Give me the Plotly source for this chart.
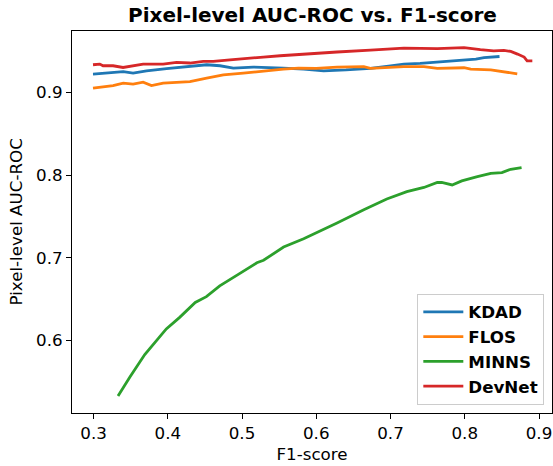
import plotly.graph_objects as go

# ---- data ----
kdad_x = [0.2993, 0.3263, 0.340, 0.3533, 0.3714, 0.3984, 0.4254, 0.4524, 0.4703, 0.4883,
          0.5152, 0.5378, 0.5557, 0.583, 0.610, 0.640, 0.673, 0.700, 0.718, 0.740,
          0.763, 0.780, 0.799, 0.815, 0.826, 0.8468]
kdad_y = [0.922, 0.924, 0.925, 0.9232, 0.926, 0.9285, 0.9312, 0.9333, 0.9321, 0.9293,
          0.9305, 0.930, 0.9293, 0.928, 0.926, 0.927, 0.929, 0.932, 0.934, 0.935,
          0.9366, 0.9375, 0.939, 0.940, 0.942, 0.9433]

flos_x = [0.2993, 0.3084, 0.3263, 0.340, 0.3533, 0.3668, 0.3781, 0.3938, 0.4119, 0.4298,
          0.4524, 0.4748, 0.5018, 0.5287, 0.5557, 0.576, 0.600, 0.628, 0.664, 0.673,
          0.700, 0.718, 0.745, 0.763, 0.799, 0.808, 0.835, 0.853, 0.8707]
flos_y = [0.905, 0.9058, 0.9082, 0.911, 0.910, 0.9123, 0.9082, 0.911, 0.9119, 0.913,
          0.917, 0.9212, 0.9232, 0.926, 0.928, 0.9293, 0.929, 0.9305, 0.931, 0.929,
          0.930, 0.931, 0.931, 0.929, 0.9297, 0.928, 0.927, 0.9248, 0.9224]

minns_x = [0.333, 0.349, 0.369, 0.398, 0.416, 0.437, 0.452, 0.470, 0.495, 0.520,
           0.529, 0.556, 0.583, 0.610, 0.628, 0.664, 0.695, 0.722, 0.745, 0.763,
           0.769, 0.783, 0.796, 0.817, 0.835, 0.850, 0.862, 0.8765]
minns_y = [0.533, 0.556, 0.583, 0.614, 0.628, 0.646, 0.653, 0.666, 0.680, 0.694,
           0.697, 0.713, 0.723, 0.734, 0.742, 0.758, 0.771, 0.780, 0.785, 0.791,
           0.791, 0.788, 0.793, 0.798, 0.802, 0.803, 0.807, 0.809]

devnet_x = [0.2993, 0.3084, 0.3128, 0.3263, 0.3398, 0.3533, 0.3668, 0.3803, 0.3938, 0.4119,
            0.4298, 0.4478, 0.4613, 0.4838, 0.5063, 0.5287, 0.5513, 0.576, 0.583, 0.628,
            0.673, 0.718, 0.763, 0.799, 0.821, 0.839, 0.8527, 0.862, 0.871, 0.880,
            0.884, 0.891]
devnet_y = [0.9333, 0.9341, 0.9321, 0.9321, 0.9300, 0.9321, 0.9341, 0.9341, 0.9341, 0.9361,
            0.9354, 0.9373, 0.9373, 0.9393, 0.9414, 0.9426, 0.9442, 0.9458, 0.9466, 0.9487,
            0.951, 0.9535, 0.9527, 0.954, 0.9515, 0.950, 0.9506, 0.9494, 0.9462, 0.9426,
            0.938, 0.938]

series_names = ["KDAD", "FLOS", "MINNS", "DevNet"]
series_x = [kdad_x, flos_x, minns_x, devnet_x]
series_y = [kdad_y, flos_y, minns_y, devnet_y]
colors = ["#1f77b4", "#ff7f0e", "#2ca02c", "#d62728"]

x_ticks = [0.3, 0.4, 0.5, 0.6, 0.7, 0.8, 0.9]
y_ticks = [0.6, 0.7, 0.8, 0.9]

FONT = "DejaVu Sans"
FS = 16.7

fig = go.Figure()
for name, xs, ys, c in zip(series_names, series_x, series_y, colors):
    fig.add_trace(go.Scatter(x=xs, y=ys, mode="lines", name=name, legendgroup=name,
                             line=dict(color=c, width=2.8)))

axis_common = dict(showgrid=False, zeroline=False, showline=True, mirror=True,
                   linecolor="black", linewidth=1, ticks="outside", ticklen=5,
                   tickwidth=1, tickcolor="black", automargin=False,
                   tickfont=dict(family=FONT, size=FS, color="black"))

fig.update_layout(
    width=553, height=466,
    margin=dict(l=72, r=1, t=31, b=53),
    paper_bgcolor="white", plot_bgcolor="white",
    font=dict(family=FONT, color="black"),
    showlegend=True,
    legend=dict(x=0.984, y=0.022, xanchor="right", yanchor="bottom",
                bgcolor="white", bordercolor="#cccccc", borderwidth=1,
                font=dict(family=FONT, size=FS, color="black", weight="bold"),
                tracegroupgap=0, itemwidth=40),
    xaxis=dict(range=[0.2710, 0.9175], tickvals=x_ticks,
               ticktext=[f"{v:.1f}" for v in x_ticks],
               title=dict(text="F1-score", font=dict(family=FONT, size=FS), standoff=6),
               **axis_common),
    yaxis=dict(range=[0.5124, 0.9741], tickvals=y_ticks,
               ticktext=[f"{v:.1f}" for v in y_ticks],
               **axis_common),
)

fig.add_annotation(text="Pixel-level AUC-ROC", xref="paper", yref="paper",
                   x=0, y=0.5, xshift=-56.5, xanchor="center", yanchor="middle",
                   textangle=-90, showarrow=False,
                   font=dict(family=FONT, size=FS, color="black"))

fig.add_annotation(text="<b>Pixel-level AUC-ROC vs. F1-score</b>", xref="paper", yref="paper",
                   x=0.5, y=1, yshift=16, xanchor="center", yanchor="middle", showarrow=False,
                   font=dict(family=FONT, size=20, color="black"))

fig.write_html("out.html", config={"displayModeBar": False},
               post_script="document.body.style.margin='0';")
